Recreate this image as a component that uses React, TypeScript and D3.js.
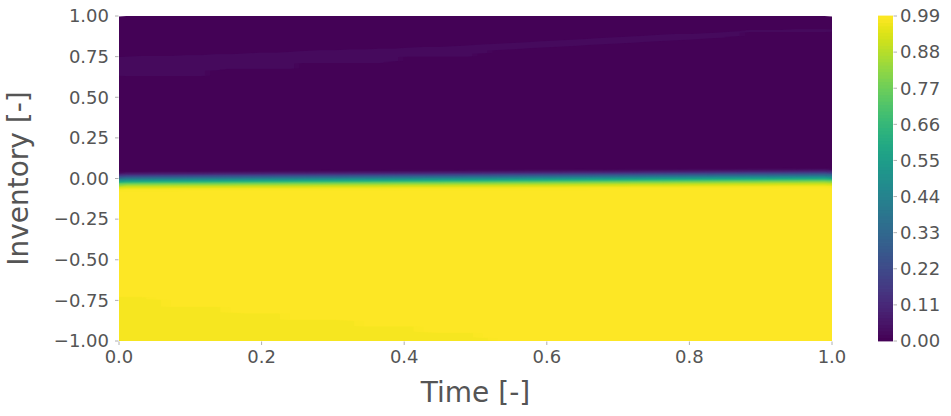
import { useEffect, useRef } from 'react'
import * as d3 from 'd3'

const W = 951
const H = 416

// axis ticks
const xTicks = [0, 0.2, 0.4, 0.6, 0.8, 1.0]
const yTicks = [1, 0.75, 0.5, 0.25, 0, -0.25, -0.5, -0.75, -1]
const cbarTicks = [0, 0.11, 0.22, 0.33, 0.44, 0.55, 0.66, 0.77, 0.88, 0.99]

// value across the switching line (offset in inventory from the line -> value)
const switchOffset = [-0.075, -0.06, -0.045, -0.03, -0.015, 0, 0.015, 0.03, 0.045, 0.06]
const switchValue = [0.99, 0.97, 0.9, 0.78, 0.6, 0.42, 0.25, 0.1, 0.02, 0]

// where the switching line sits over time
const switchTime = [0, 0.5, 1]
const switchInv = [-0.004, 0.004, 0.014]

// faint band in the upper half
const upperTime = [0, 0.12, 0.14, 0.24, 0.26, 0.38, 0.4, 0.5, 0.52, 0.7, 0.86, 0.88, 1.0]
const upperLo = [0.63, 0.63, 0.675, 0.675, 0.71, 0.71, 0.75, 0.75, 0.79, 0.83, 0.87, 0.9, 0.9]
const upperHi = [0.75, 0.76, 0.765, 0.78, 0.785, 0.8, 0.805, 0.82, 0.825, 0.87, 0.905, 0.915, 0.92]
const upperValue = 0.028

// slightly lower region in the bottom left
const lowerTime = [0, 0.05, 0.06, 0.14, 0.16, 0.22, 0.24, 0.32, 0.34, 0.41, 0.43, 0.5, 0.52]
const lowerEdge = [-0.73, -0.73, -0.79, -0.79, -0.83, -0.83, -0.87, -0.87, -0.91, -0.91, -0.95, -0.95, -1.01]
const lowerValue = 0.975

const FONT = "'DejaVu Sans', sans-serif"
const TEXT = '#555'
const TICK = '#b0b0b0'

export default function App() {
  const svgRef = useRef<SVGSVGElement>(null)

  useEffect(() => {
    const svg = d3.select(svgRef.current)
    svg.selectAll('*').remove()

    const margin = { left: 119, right: 832, top: 16, bottom: 341 }
    const x = d3.scaleLinear().domain([0, 1]).range([margin.left, margin.right])
    const y = d3.scaleLinear().domain([-1, 1]).range([margin.bottom, margin.top])
    const color = d3.scaleSequential(d3.interpolateViridis).domain([0, 0.99]).clamp(true)

    const profile = d3.scaleLinear().domain(switchOffset).range(switchValue).clamp(true)
    const shift = d3.scaleLinear().domain(switchTime).range(switchInv).clamp(true)
    const bandLo = d3.scaleLinear().domain(upperTime).range(upperLo).clamp(true)
    const bandHi = d3.scaleLinear().domain(upperTime).range(upperHi).clamp(true)
    const lowE = d3.scaleLinear().domain(lowerTime).range(lowerEdge).clamp(true)

    const n = 48
    const m = 400
    const values: number[] = new Array(n * m)
    for (let j = 0; j < m; j++) {
      const inv = 1 - (2 * (j + 0.5)) / m
      for (let i = 0; i < n; i++) {
        const t = (i + 0.5) / n
        let v = profile(inv - shift(t))
        if (inv >= bandLo(t) && inv <= bandHi(t)) v = Math.max(v, upperValue)
        if (inv < lowE(t)) v = Math.min(v, lowerValue)
        values[j * n + i] = v
      }
    }

    const levels = d3.range(0, 100).map((k) => k / 100)
    const contours = d3.contours().size([n, m]).thresholds(levels)(values)
    const proj = d3.geoTransform({
      point(px: number, py: number) {
        ;(this as any).stream.point(x(px / n), y(1 - (2 * py) / m))
      },
    })
    const path = d3.geoPath(proj as any)

    svg
      .append('defs')
      .append('clipPath')
      .attr('id', 'plot-clip')
      .append('rect')
      .attr('x', margin.left)
      .attr('y', margin.top)
      .attr('width', margin.right - margin.left)
      .attr('height', margin.bottom - margin.top)

    svg
      .append('g')
      .attr('clip-path', 'url(#plot-clip)')
      .selectAll('path')
      .data(contours)
      .join('path')
      .attr('d', (d: any) => path(d))
      .attr('fill', (d: any) => color(d.value + 0.005))

    // y axis
    const gy = svg.append('g')
    yTicks.forEach((v) => {
      gy.append('line')
        .attr('x1', margin.left - 4)
        .attr('x2', margin.left - 0.5)
        .attr('y1', y(v))
        .attr('y2', y(v))
        .attr('stroke', TICK)
        .attr('stroke-width', 1)
      gy.append('text')
        .attr('x', margin.left - 10)
        .attr('y', y(v))
        .attr('dy', '0.35em')
        .attr('text-anchor', 'end')
        .attr('fill', TEXT)
        .attr('font-size', 18)
        .attr('font-family', FONT)
        .text(v.toFixed(2).replace('-', '\u2212'))
    })

    // x axis
    const gx = svg.append('g')
    xTicks.forEach((v) => {
      gx.append('line')
        .attr('x1', x(v))
        .attr('x2', x(v))
        .attr('y1', margin.bottom + 0.5)
        .attr('y2', margin.bottom + 4)
        .attr('stroke', TICK)
        .attr('stroke-width', 1)
      gx.append('text')
        .attr('x', x(v))
        .attr('y', margin.bottom + 22)
        .attr('text-anchor', 'middle')
        .attr('fill', TEXT)
        .attr('font-size', 18)
        .attr('font-family', FONT)
        .text(v.toFixed(1))
    })

    svg
      .append('text')
      .attr('x', (margin.left + margin.right) / 2)
      .attr('y', 402)
      .attr('text-anchor', 'middle')
      .attr('fill', TEXT)
      .attr('font-size', 28)
      .attr('font-family', FONT)
      .text('Time [-]')

    svg
      .append('text')
      .attr('transform', `translate(28,${(margin.top + margin.bottom) / 2}) rotate(-90)`)
      .attr('text-anchor', 'middle')
      .attr('fill', TEXT)
      .attr('font-size', 28)
      .attr('font-family', FONT)
      .text('Inventory [-]')

    // colour bar
    const cb = { left: 878, right: 893 }
    const cy = d3.scaleLinear().domain([0, 0.99]).range([margin.bottom, margin.top])
    const gc = svg.append('g')
    levels.slice(0, -1).forEach((l, k) => {
      const top = cy(levels[k + 1])
      gc.append('rect')
        .attr('x', cb.left)
        .attr('y', top - 0.4)
        .attr('width', cb.right - cb.left)
        .attr('height', cy(l) - top + 0.8)
        .attr('fill', color(l + 0.005))
    })
    cbarTicks.forEach((v) => {
      gc.append('line')
        .attr('x1', cb.right + 0.5)
        .attr('x2', cb.right + 4)
        .attr('y1', cy(v))
        .attr('y2', cy(v))
        .attr('stroke', TICK)
        .attr('stroke-width', 1)
      gc.append('text')
        .attr('x', cb.right + 7)
        .attr('y', cy(v))
        .attr('dy', '0.35em')
        .attr('fill', TEXT)
        .attr('font-size', 18)
        .attr('font-family', FONT)
        .text(v.toFixed(2))
    })
  }, [])

  return (
    <svg
      ref={svgRef}
      width={W}
      height={H}
      style={{ position: 'absolute', left: 0, top: 0, background: '#fff' }}
    />
  )
}
